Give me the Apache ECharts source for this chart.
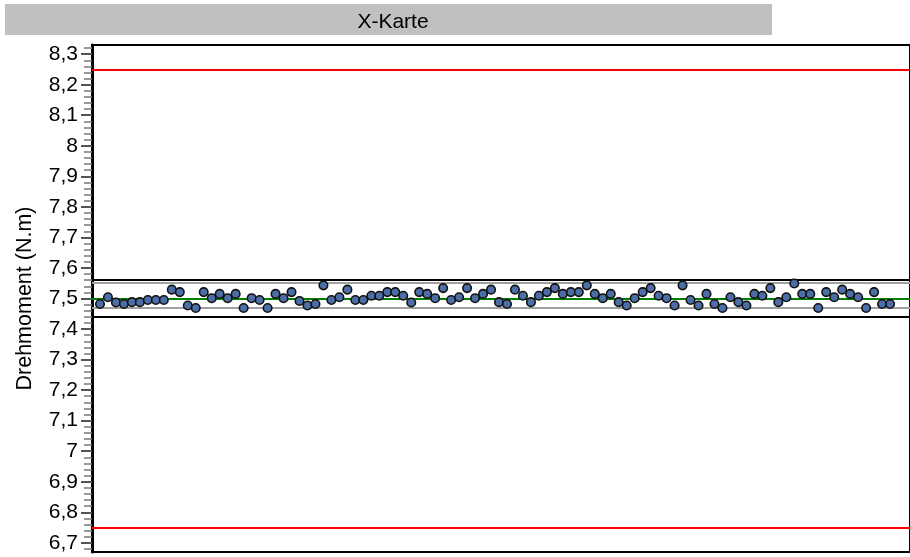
<!DOCTYPE html>
<html>
<head>
<meta charset="utf-8">
<script src="https://cdn.jsdelivr.net/npm/echarts@6/dist/echarts.min.js"></script>
<style>
html,body{margin:0;padding:0;background:#fff;}
#chart{width:910px;height:557px;}
</style>
</head>
<body>
<div id="chart"></div>
<script>
// Title and axis text
const chartTitle = 'X-Karte';
const yAxisName = 'Drehmoment (N.m)';

// Tick labels (y axis)
const yTicks = [6.7, 6.8, 6.9, 7.0, 7.1, 7.2, 7.3, 7.4, 7.5, 7.6, 7.7, 7.8, 7.9, 8.0, 8.1, 8.2, 8.3];
const yMin = 6.67;
const yMax = 8.33;
// Minor tick positions (every 0.02 between the labelled ticks)
const yMinorTicks = [];
for (let k = 334; k <= 416; k++) {
  const v = +(k * 0.02).toFixed(2);
  if (k % 5 !== 0 && v > yMin && v < yMax) yMinorTicks.push(v);
}

// Sample numbers (x categories)
const samples = Array.from({length: 100}, (_, i) => i + 1);

const drehmoment = [
  7.482, 7.504, 7.487, 7.482, 7.488, 7.488, 7.495, 7.495, 7.495, 7.529,
  7.521, 7.477, 7.469, 7.521, 7.501, 7.515, 7.501, 7.515, 7.469, 7.501,
  7.495, 7.469, 7.515, 7.501, 7.521, 7.492, 7.477, 7.482, 7.543, 7.495,
  7.504, 7.529, 7.495, 7.495, 7.509, 7.509, 7.521, 7.521, 7.509, 7.487,
  7.521, 7.515, 7.501, 7.534, 7.495, 7.504, 7.534, 7.501, 7.515, 7.529,
  7.488, 7.482, 7.529, 7.509, 7.488, 7.509, 7.521, 7.534, 7.515, 7.521,
  7.521, 7.543, 7.515, 7.501, 7.515, 7.488, 7.477, 7.501, 7.521, 7.534,
  7.509, 7.501, 7.477, 7.543, 7.495, 7.477, 7.515, 7.482, 7.469, 7.504,
  7.488, 7.477, 7.515, 7.509, 7.534, 7.488, 7.504, 7.549, 7.515, 7.515,
  7.469, 7.521, 7.504, 7.529, 7.515, 7.504, 7.469, 7.521, 7.482, 7.482
];

// Reference lines
const toleranceLimits = [8.25, 6.75];     // red
const controlLimits = [7.556, 7.439];     // black
const extremeLines = [7.546, 7.467];      // gray
const centerLine = [7.497];               // green

const fmt = v => String(+Number(v).toFixed(2)).replace('.', ',');
const FONT = 'Liberation Sans, Arial, sans-serif';

const chart = echarts.init(document.getElementById('chart'), null, {renderer: 'canvas'});

function hLines(values, color, width) {
  return values.map(v => ({yAxis: v, lineStyle: {color: color, width: width, type: 'solid'}}));
}

const option = {
  animation: false,
  backgroundColor: '#ffffff',
  textStyle: {fontFamily: FONT},
  graphic: [{
    type: 'rect',
    shape: {x: 5, y: 4, width: 767, height: 31},
    style: {fill: '#c0c0c0'},
    z: 0
  }],
  title: {
    text: chartTitle,
    left: 388,
    top: 7,
    textAlign: 'center',
    textStyle: {fontSize: 21, fontWeight: 'normal', color: '#000', fontFamily: FONT},
    z: 5
  },
  grid: {
    left: 92, top: 45, bottom: 5, right: -20,
    show: true, borderColor: '#000', borderWidth: 2, backgroundColor: 'transparent'
  },
  xAxis: {
    type: 'value',
    min: 0,
    max: 102.5,
    show: false,
    splitLine: {show: false}
  },
  yAxis: [
    {
      type: 'value',
      min: yMin,
      max: yMax,
      splitNumber: 16,
      name: yAxisName,
      nameLocation: 'middle',
      nameGap: 56,
      nameTextStyle: {fontSize: 21.5, color: '#000', fontFamily: FONT},
      axisLine: {show: true, lineStyle: {color: '#000', width: 3}},
      axisTick: {show: true, length: 11, lineStyle: {color: '#555', width: 2}, customValues: yTicks},
      minorTick: {show: false},
      axisLabel: {
        customValues: yTicks,
        formatter: fmt,
        fontSize: 21,
        color: '#000',
        margin: 14,
        fontFamily: FONT
      },
      splitLine: {show: false}
    },
    {
      type: 'value',
      position: 'left',
      offset: 0,
      min: yMin,
      max: yMax,
      splitNumber: 16,
      axisLine: {show: false},
      axisTick: {show: true, length: 8, lineStyle: {color: '#777', width: 1.5}, customValues: yMinorTicks},
      axisLabel: {show: false},
      splitLine: {show: false}
    }
  ],
  series: [
    {
      type: 'line',
      data: [],
      silent: true,
      z: 2,
      markLine: {
        silent: true,
        symbol: ['none', 'none'],
        label: {show: false},
        animation: false,
        data: [].concat(
          hLines(toleranceLimits, '#ff0000', 2),
          hLines(controlLimits, '#000000', 2),
          hLines(extremeLines, '#a0a0a0', 2),
          hLines(centerLine, '#008000', 2)
        )
      }
    },
    {
      type: 'scatter',
      z: 5,
      symbol: 'circle',
      symbolSize: 8.5,
      itemStyle: {color: '#4b6ea8', borderColor: '#111111', borderWidth: 1.6, opacity: 1},
      data: samples.map((s, i) => [s, drehmoment[i]])
    }
  ]
};

chart.setOption(option);
</script>
</body>
</html>
